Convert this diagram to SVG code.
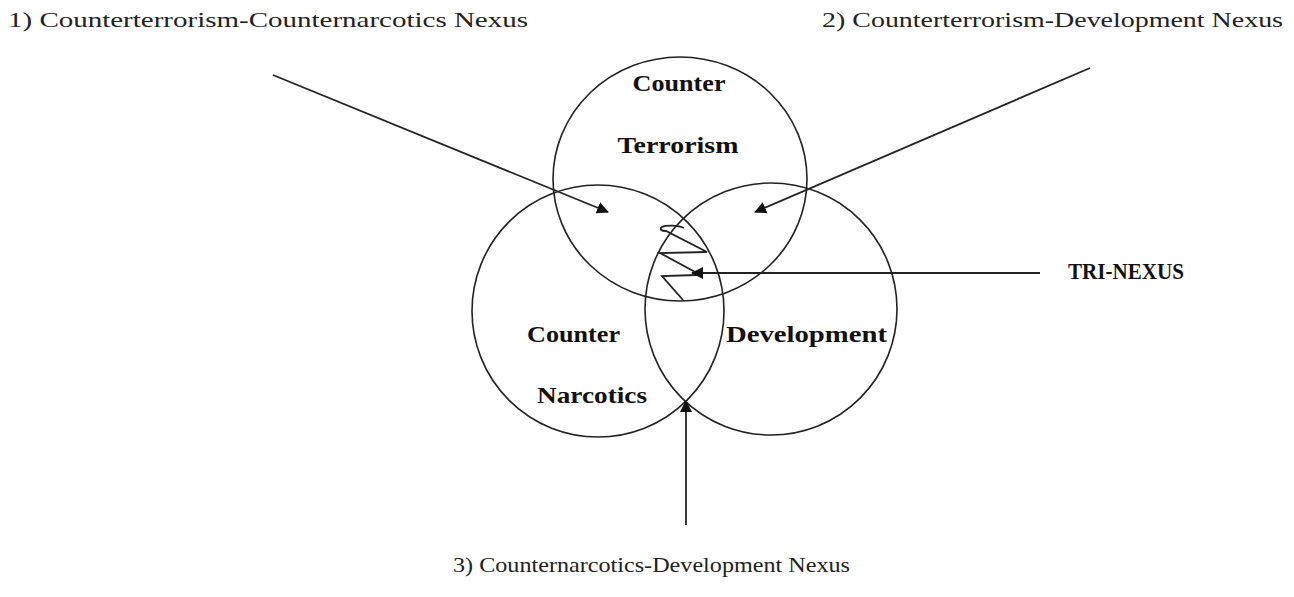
<svg xmlns="http://www.w3.org/2000/svg" width="1294" height="597" viewBox="0 0 1294 597">
<defs>
<style>
.c{fill:none;stroke:#222;stroke-width:1.6}
.ln{fill:none;stroke:#222;stroke-width:1.8}
.lab{font-family:"Liberation Serif","DejaVu Serif",serif;font-size:22px;fill:#222}
.b{font-family:"Liberation Serif","DejaVu Serif",serif;font-size:23px;font-weight:bold;fill:#111}
</style>
<marker id="ah" viewBox="0 0 12 12" refX="11" refY="6" markerWidth="12" markerHeight="12" markerUnits="userSpaceOnUse" orient="auto">
<path d="M0,0 L12,6 L0,12 z" fill="#111"/>
</marker>
</defs>
<rect width="1294" height="597" fill="#fff"/>
<g id="ct">
<ellipse class="c" cx="680" cy="179" rx="127" ry="122"/>
<text class="b" x="679" y="91" text-anchor="middle" textLength="93" lengthAdjust="spacingAndGlyphs">Counter</text>
<text class="b" x="678" y="153" text-anchor="middle" textLength="121" lengthAdjust="spacingAndGlyphs">Terrorism</text>
</g>
<g id="cn">
<circle class="c" cx="598" cy="311" r="126"/>
<text class="b" x="527" y="342" textLength="93" lengthAdjust="spacingAndGlyphs">Counter</text>
<text class="b" x="537" y="403" textLength="110" lengthAdjust="spacingAndGlyphs">Narcotics</text>
</g>
<g id="dev">
<circle class="c" cx="771" cy="309" r="126"/>
<text class="b" x="726" y="342" textLength="161" lengthAdjust="spacingAndGlyphs">Development</text>
</g>
<g id="tri">
<text class="b" x="1068" y="279" textLength="116" lengthAdjust="spacingAndGlyphs">TRI-NEXUS</text>
<path class="ln" d="M684,228 C678,225 666,225 662,227 C659,229 661,231 666,231 L707,252 L660,253 L697,273 M697,275 L662,276 L683,300" stroke-width="1.4"/>
</g>
<g id="n1"><text class="lab" x="8" y="27" textLength="520" lengthAdjust="spacingAndGlyphs">1) Counterterrorism-Counternarcotics  Nexus</text></g>
<g id="n2"><text class="lab" x="822" y="27" textLength="461" lengthAdjust="spacingAndGlyphs">2) Counterterrorism-Development  Nexus</text></g>
<g id="n3"><text class="lab" x="453" y="572" textLength="397" lengthAdjust="spacingAndGlyphs">3) Counternarcotics-Development  Nexus</text></g>
<g id="connectors">
<line class="ln" x1="273" y1="75" x2="608" y2="212" marker-end="url(#ah)"/>
<line class="ln" x1="1090" y1="68" x2="755" y2="212" marker-end="url(#ah)"/>
<line class="ln" x1="1040" y1="273" x2="692" y2="273" marker-end="url(#ah)"/>
<line class="ln" x1="686" y1="525" x2="686" y2="401" marker-end="url(#ah)"/>
</g>
</svg>
